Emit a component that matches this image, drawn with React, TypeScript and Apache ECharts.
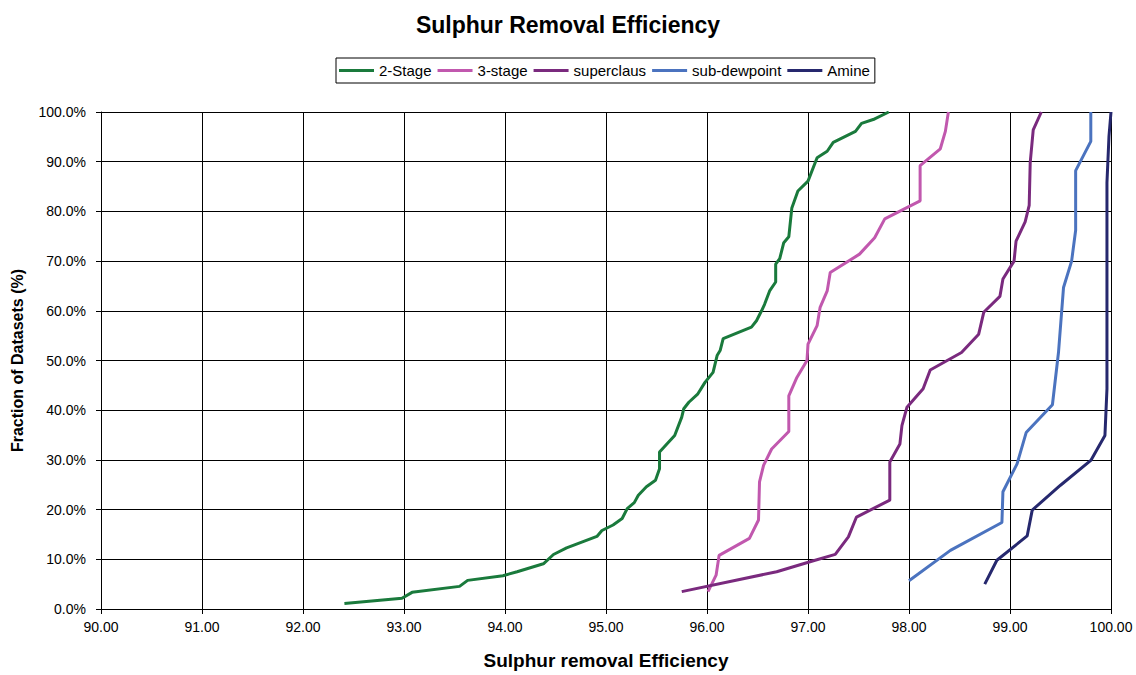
import React, { useEffect, useRef } from "react";
import * as echarts from "echarts";

const seriesNames = ["2-Stage", "3-stage", "superclaus", "sub-dewpoint", "Amine"];
const seriesColors = ["#1A7A3C", "#C158AE", "#7A2A7E", "#4B73BF", "#26286E"];

const xTicks = { min: 90, max: 100, interval: 1 };
const yTicks = { min: 0, max: 100, interval: 10 };

const twoStage: [number, number][] = [
  [92.41, 1.1], [92.98, 2.15], [93.08, 3.35], [93.55, 4.55], [93.63, 5.76], [93.98, 6.7],
  [94.12, 7.5], [94.38, 9.1], [94.48, 10.97], [94.61, 12.3], [94.91, 14.6], [94.96, 15.8],
  [95.07, 16.9], [95.16, 18.2], [95.21, 20.2], [95.28, 21.4], [95.32, 22.9], [95.4, 24.6],
  [95.49, 25.9], [95.53, 28.2], [95.53, 31.6], [95.68, 34.9], [95.75, 38.6], [95.77, 40.3],
  [95.82, 41.6], [95.91, 43.3], [95.98, 45.6], [96.06, 47.6], [96.1, 51.0], [96.13, 52.0],
  [96.16, 54.4], [96.44, 56.7], [96.49, 58.0], [96.54, 60.0], [96.57, 61.3], [96.62, 64.0],
  [96.68, 65.8], [96.68, 69.4], [96.72, 70.5], [96.76, 73.7], [96.81, 74.9], [96.84, 80.7],
  [96.9, 84.1], [97.0, 86.1], [97.09, 90.8], [97.19, 92.1], [97.25, 93.9], [97.47, 96.1],
  [97.53, 97.7], [97.66, 98.6], [97.8, 100.0],
];

const threeStage: [number, number][] = [
  [96.01, 3.5], [96.09, 6.8], [96.12, 10.8], [96.42, 14.2], [96.51, 17.9], [96.52, 25.6],
  [96.56, 28.9], [96.64, 32.2], [96.81, 35.7], [96.81, 42.9], [96.89, 46.6], [96.99, 50.0],
  [97.0, 53.3], [97.09, 57.0], [97.12, 60.7], [97.19, 64.0], [97.22, 67.7], [97.51, 71.4],
  [97.66, 74.7], [97.76, 78.5], [98.11, 82.1], [98.11, 89.2], [98.31, 92.6], [98.36, 96.1],
  [98.39, 100.0],
];

const superclaus: [number, number][] = [
  [95.75, 3.5], [96.69, 7.5], [97.02, 9.5], [97.27, 11.0], [97.4, 14.5], [97.48, 18.5],
  [97.81, 21.9], [97.81, 29.6], [97.91, 33.2], [97.93, 36.9], [97.98, 40.6], [98.14, 44.3],
  [98.21, 48.1], [98.52, 51.6], [98.69, 55.3], [98.74, 59.7], [98.9, 62.9], [98.93, 66.4],
  [99.04, 70.0], [99.06, 74.0], [99.15, 77.9], [99.19, 81.2], [99.2, 89.8], [99.23, 96.4],
  [99.31, 100.0],
];

const subDewpoint: [number, number][] = [
  [98.0, 5.7], [98.41, 11.8], [98.92, 17.4], [98.93, 23.6], [99.07, 29.2], [99.16, 35.5],
  [99.42, 41.1], [99.48, 51.6], [99.53, 64.7], [99.61, 70.0], [99.65, 76.2], [99.65, 88.2],
  [99.8, 94.1], [99.8, 100.0],
];

const amine: [number, number][] = [
  [98.75, 5.0], [98.87, 9.8], [99.17, 14.7], [99.22, 19.9], [99.5, 24.9], [99.8, 29.9],
  [99.94, 34.9], [99.96, 44.3], [99.96, 69.0], [99.96, 85.8], [99.98, 95.1], [100.0, 100.0],
];

const allData = [twoStage, threeStage, superclaus, subDewpoint, amine];

const FONT = "'Liberation Sans', Arial, sans-serif";

export default function App() {
  const ref = useRef<HTMLDivElement>(null);
  useEffect(() => {
    document.body.style.margin = "0";
    if (!ref.current) return;
    const chart = echarts.init(ref.current, undefined, { renderer: "svg" });
    chart.setOption({
      animation: false,
      backgroundColor: "#ffffff",
      textStyle: { fontFamily: FONT },
      title: {
        text: "Sulphur Removal Efficiency",
        left: "center",
        top: 8,
        textStyle: { fontFamily: FONT, fontSize: 23, fontWeight: "bold", color: "#000" },
      },
      legend: {
        left: 336,
        top: 58,
        orient: "horizontal",
        data: seriesNames,
        icon: "rect",
        itemWidth: 35,
        itemHeight: 3,
        itemGap: 6,
        padding: [5, 5, 5, 3],
        borderColor: "#000",
        borderWidth: 1,
        textStyle: { fontFamily: FONT, fontSize: 15, color: "#000" },
      },
      grid: { left: 101, right: 25, top: 112, bottom: 64, containLabel: false },
      xAxis: {
        type: "value",
        min: xTicks.min,
        max: xTicks.max,
        interval: xTicks.interval,
        name: "Sulphur removal Efficiency",
        nameLocation: "middle",
        nameGap: 42,
        nameTextStyle: { fontFamily: FONT, fontSize: 19, fontWeight: "bold", color: "#000" },
        axisLine: { show: true, lineStyle: { color: "#000", width: 1 } },
        axisTick: { show: true, length: 5, lineStyle: { color: "#000" } },
        axisLabel: {
          fontFamily: FONT,
          fontSize: 14,
          color: "#000",
          margin: 11,
          formatter: (v: number) => v.toFixed(2),
        },
        splitLine: { show: true, lineStyle: { color: "#000", width: 1 } },
      },
      yAxis: {
        type: "value",
        min: yTicks.min,
        max: yTicks.max,
        interval: yTicks.interval,
        name: "Fraction of Datasets (%)",
        nameLocation: "middle",
        nameGap: 76,
        nameRotate: 90,
        nameTextStyle: { fontFamily: FONT, fontSize: 16, fontWeight: "bold", color: "#000" },
        axisLine: { show: true, lineStyle: { color: "#000", width: 1 } },
        axisTick: { show: true, length: 5, lineStyle: { color: "#000" } },
        axisLabel: {
          fontFamily: FONT,
          fontSize: 14,
          color: "#000",
          margin: 15,
          formatter: (v: number) => v.toFixed(1) + "%",
        },
        splitLine: { show: true, lineStyle: { color: "#000", width: 1 } },
      },
      series: seriesNames.map((name, i) => ({
        name,
        type: "line",
        data: allData[i],
        showSymbol: false,
        symbol: "none",
        color: seriesColors[i],
        lineStyle: { color: seriesColors[i], width: 3 },
        clip: true,
      })),
    });
    return () => chart.dispose();
  }, []);
  return (
    <div
      ref={ref}
      style={{ position: "absolute", left: 0, top: 0, width: 1136, height: 675 }}
    />
  );
}
